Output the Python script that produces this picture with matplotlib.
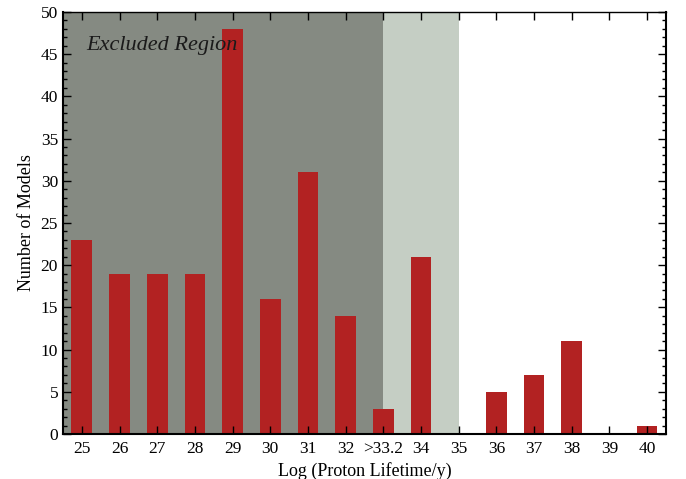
import matplotlib.pyplot as plt
import numpy as np
from matplotlib.ticker import MultipleLocator

plt.rcParams['font.family'] = ['Liberation Serif', 'DejaVu Serif']

# data
labels = ['25', '26', '27', '28', '29', '30', '31', '32', '>33.2',
          '34', '35', '36', '37', '38', '39', '40']
counts = [23, 19, 19, 19, 48, 16, 31, 14, 3, 21, 0, 5, 7, 11, 0, 1]
excluded_end = '>33.2'   # dark band runs up to this category
future_end = '35'        # light band runs up to this category

x = np.arange(len(labels))

fig = plt.figure(figsize=(6.86, 4.79), dpi=100)
ax = fig.add_axes([0.0918, 0.094, 0.879, 0.881])

i_ex = labels.index(excluded_end)
i_fu = labels.index(future_end)
ax.axvspan(-0.5, i_ex, color='#858a82', lw=0, zorder=0)
ax.axvspan(i_ex, i_fu, color='#c5cec4', lw=0, zorder=0)

ax.bar(x, counts, width=0.55, color='#b22222', zorder=1)

ax.set_xlim(-0.5, len(labels) - 0.5)
ax.set_ylim(0, 50)
ax.set_xticks(x)
ax.set_xticklabels(labels)
ax.yaxis.set_major_locator(MultipleLocator(5))
ax.yaxis.set_minor_locator(MultipleLocator(1))
ax.tick_params(axis='both', which='both', direction='in', top=True, right=True,
               labelsize=12.5)
ax.tick_params(axis='x', pad=5)
ax.tick_params(which='major', length=6, width=1)
ax.tick_params(which='minor', length=3, width=1)
ax.set_axisbelow(False)
for s in ax.spines.values():
    s.set_linewidth(1.5)
    s.set_zorder(3)
ax.spines['top'].set_linewidth(1.0)

ax.set_xlabel('Log (Proton Lifetime/y)', fontsize=13)
ax.set_ylabel('Number of Models', fontsize=13)
ax.text(0.038, 0.92, 'Excluded Region', transform=ax.transAxes,
        fontsize=16, style='italic', color='#1a1a1a', va='center')

fig.savefig('out.png', dpi=100)
